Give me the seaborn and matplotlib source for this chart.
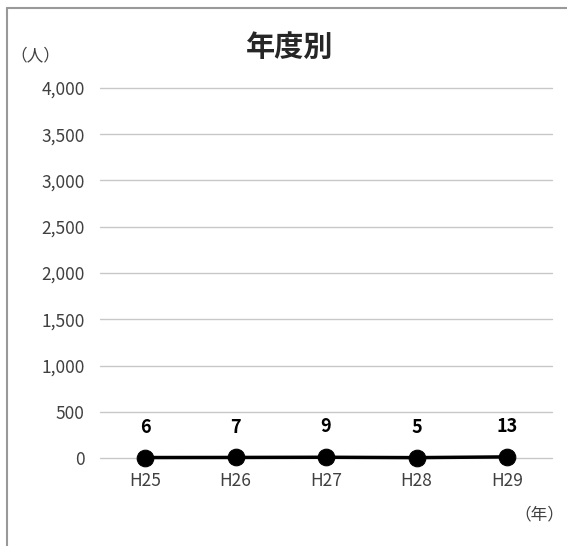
import matplotlib
matplotlib.use("Agg")
import matplotlib.pyplot as plt
import seaborn as sns
import pandas as pd
from matplotlib.lines import Line2D

# data
years = ["H25", "H26", "H27", "H28", "H29"]
people = [6, 7, 9, 5, 13]
y_ticks = [0, 500, 1000, 1500, 2000, 2500, 3000, 3500, 4000]

df = pd.DataFrame({"year": years, "people": people})

sns.set_style("white")
plt.rcParams["font.family"] = ["Noto Sans CJK JP", "DejaVu Sans"]

fig = plt.figure(figsize=(5.67, 5.46), dpi=100)
ax = fig.add_axes([0.176, 0.161, 0.798, 0.678])

sns.lineplot(data=df, x="year", y="people", ax=ax, color="black",
             linewidth=2.5, marker="o", markersize=12, markeredgecolor="black",
             zorder=3)
for ln in ax.lines:
    ln.set_clip_on(False)

ax.set_xlim(-0.5, len(years) - 0.5)
ax.set_ylim(0, 4000)
ax.set_yticks(y_ticks)
ax.set_yticklabels([f"{v:,}" for v in y_ticks])
ax.yaxis.grid(True, color="#c8c8c8", linewidth=1)
for g in ax.get_ygridlines():
    g.set_clip_on(False)
ax.set_axisbelow(True)
for s in ax.spines.values():
    s.set_visible(False)
ax.tick_params(axis="both", length=0, labelsize=12.5, colors="#404040")
ax.tick_params(axis="y", pad=11)
ax.tick_params(axis="x", pad=10)
ax.set_xlabel("")
ax.set_ylabel("")

# data labels
for i, v in enumerate(people):
    ax.annotate(str(v), (i, v), xytext=(0, 15), textcoords="offset points",
                ha="center", va="bottom", fontsize=13, color="black",
                fontweight="bold")

fig.text(0.511, 0.914, "年度別", ha="center", va="center",
         fontsize=21, fontweight="bold")
fig.text(0.062, 0.897, "（人）", ha="center", va="center", fontsize=12,
         color="#404040")
fig.text(0.952, 0.057, "（年）", ha="center", va="center", fontsize=12,
         color="#404040")

# frame lines at top and left
fig.add_artist(Line2D([7 / 567, 1], [1 - 8 / 546, 1 - 8 / 546],
                      color="#999999", linewidth=1.5))
fig.add_artist(Line2D([7 / 567, 7 / 567], [0, 1 - 8 / 546],
                      color="#999999", linewidth=1.5))

fig.savefig("out.png", dpi=100)
